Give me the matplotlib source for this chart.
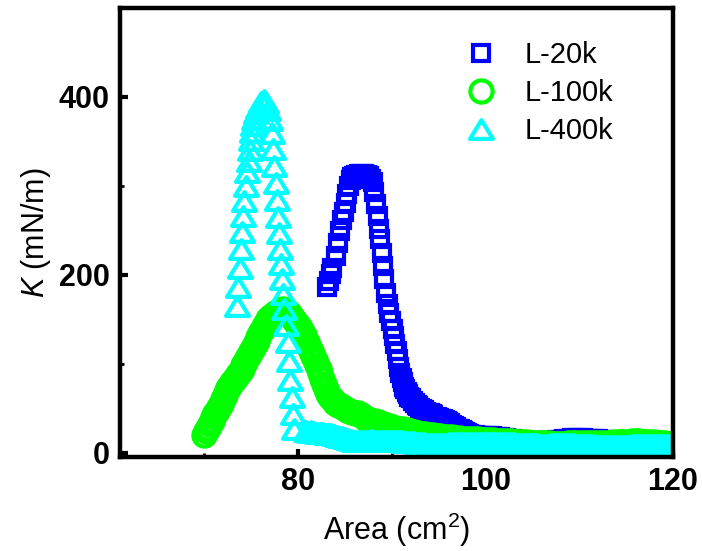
import matplotlib
matplotlib.use("Agg")
import matplotlib.pyplot as plt
from matplotlib.path import Path
from matplotlib.ticker import MultipleLocator

plt.rcParams['font.family'] = ['Liberation Sans', 'DejaVu Sans']
plt.rcParams['mathtext.fontset'] = 'custom'
plt.rcParams['mathtext.rm'] = 'Liberation Sans'
plt.rcParams['mathtext.it'] = 'Liberation Sans:italic'

# ---------------- data ----------------
series_labels = ['L-20k', 'L-100k', 'L-400k']

area_20k = [83.14, 83.32, 83.50, 83.68, 84.03, 84.28, 84.49, 84.75, 84.92, 85.10,
            85.28, 85.46, 85.64, 85.82, 85.99, 86.25, 86.52, 86.80, 87.06, 87.32,
            87.59, 87.80, 87.96, 88.13, 88.31, 88.49, 88.67, 88.80, 88.95, 89.06,
            89.20, 89.38, 89.56, 89.73, 89.91, 90.10, 90.27, 90.37, 90.56, 90.70,
            90.80, 90.91, 91.06, 91.16,
            91.30, 91.45, 91.60, 91.75, 91.90, 92.05, 92.25, 92.45, 92.65, 92.85,
            93.05, 93.25, 93.45, 93.65, 93.85, 94.05, 94.25, 94.45, 94.65, 94.85,
            95.05, 95.25, 95.45, 95.65, 95.85, 96.05, 96.25, 96.45, 96.65, 96.85,
            97.05, 97.25, 97.45, 97.65, 97.85, 98.05, 98.3, 98.6, 98.9, 99.2,
            99.5, 99.8, 100.1, 100.4, 100.7, 101.0, 101.3, 101.6, 101.9, 102.2,
            102.5, 102.8, 103.1, 103.4, 103.7,
            104.0, 104.4, 104.8, 105.2, 105.6, 106.0, 106.4, 106.8, 107.2, 107.6,
            108.0, 108.4, 108.8, 109.2, 109.6, 110.0, 110.4, 110.8, 111.2, 111.6,
            112.0, 112.4, 112.8, 113.2, 113.6, 114.0, 114.4, 114.8, 115.2, 115.6,
            116.0, 116.4, 116.8, 117.2, 117.6, 118.0, 118.4, 118.8, 119.2, 119.6,
            120.0, 120.4]
k_20k = [186, 193, 201, 208, 221, 236, 249, 261, 270, 281,
         291, 300, 307, 310, 311, 312, 313, 313, 313, 312,
         311, 308, 304, 293, 279, 266, 251, 240, 225, 210,
         195, 180, 167, 157, 148, 139, 131, 122, 114, 105,
         96, 90, 84, 79,
         74, 71, 68, 65.5, 63, 61, 58.5, 56, 54, 52,
         50.5, 49, 47.5, 46, 45, 44, 43, 42, 40.5, 39.5,
         38.5, 38, 37.5, 36.5, 35.5, 34.5, 33, 31.5, 30, 28.5,
         27, 26, 25, 24, 23, 22, 21, 20, 19.5, 19,
         19, 19, 19, 18.8, 18.5, 18, 17.5, 17, 16.5, 16,
         15.5, 15, 14.5, 14, 13.5,
         13.5, 13.5, 13.5, 13, 13, 12.5, 12.5, 13, 13.5, 14,
         14.5, 15, 15.5, 16, 16, 16, 16, 15.5, 15.5, 15,
         15, 14.5, 14, 13, 12, 11, 10.5, 10, 10, 10,
         10, 10, 10, 10, 10, 10, 10, 10, 10, 10,
         10, 10]

area_100k = [70.0, 70.2, 70.4, 70.6, 70.8, 71.0, 71.2, 71.4, 71.6, 71.8,
             72.0, 72.2, 72.4, 72.6, 72.8, 73.0, 73.2, 73.4, 73.6, 73.8,
             74.0, 74.2, 74.4, 74.6, 74.8, 75.0, 75.2, 75.4, 75.6, 75.8,
             76.0, 76.2, 76.4, 76.6, 76.8, 77.0, 77.2, 77.4, 77.6, 77.8,
             78.0, 78.2, 78.4, 78.6, 78.8, 79.0, 79.2, 79.4, 79.6, 79.8,
             80.0, 80.2, 80.4, 80.6, 80.8, 81.0, 81.2, 81.4, 81.6, 81.8,
             82.0, 82.2, 82.4, 82.6, 82.8, 83.0, 83.2, 83.4, 83.6, 83.8,
             84.0, 84.3, 84.6, 84.9, 85.2, 85.5, 85.8, 86.1, 86.4, 86.7,
             87.0, 87.3, 87.6, 87.9, 88.2, 88.5, 88.8, 89.1, 89.4, 89.7,
             90.0, 90.4, 90.8, 91.2, 91.6, 92.0, 92.4, 92.8, 93.2, 93.6,
             94.0, 94.4, 94.8, 95.2, 95.6, 96.0, 96.4, 96.8, 97.2, 97.6,
             98.0, 98.4, 98.8, 99.2, 99.6, 100.0, 100.4, 100.8, 101.2, 101.6,
             102.0, 102.4, 102.8, 103.2, 103.6, 104.0, 104.4, 104.8, 105.2, 105.6,
             106.0, 106.4, 106.8, 107.2, 107.6, 108.0, 108.4, 108.8, 109.2, 109.6,
             110.0, 110.4, 110.8, 111.2, 111.6, 112.0, 112.4, 112.8, 113.2, 113.6,
             114.0, 114.4, 114.8, 115.2, 115.6, 116.0, 116.4, 116.8, 117.2, 117.6,
             118.0, 118.4, 118.8, 119.2, 119.6, 120.0, 120.4]
k_100k = [20, 24, 28, 32, 36, 40, 44, 47, 51, 55,
          60, 65, 70, 73, 76, 79, 82, 85, 88, 91,
          94, 98, 102, 106, 110, 114, 118, 122, 126, 130,
          134, 138, 142, 146, 150, 152, 154, 155, 157, 158,
          159, 160, 161, 160, 159, 157, 155, 152, 149, 146,
          143, 140, 136, 132, 128, 124, 119, 114, 109, 104,
          99, 94, 89, 83, 77, 71, 66, 63, 60, 58,
          56, 54, 52, 50, 48, 47, 46, 45, 44, 42,
          40, 38, 37, 36, 35, 34, 33, 32, 31, 30,
          29, 28, 27, 26, 25, 24, 23, 22, 21, 20.5,
          20, 19.5, 19, 18.5, 18, 17.5, 17, 16.5, 16, 15.8,
          15.5, 15.2, 15, 14.8, 14.5, 14.2, 14, 13.8, 13.5, 13.2,
          13, 12.8, 12.5, 12.2, 12, 11.8, 11.5, 11.2, 11, 10.8,
          10.5, 10.3, 10.2, 10, 10, 10, 10, 10.2, 10.3, 10.5,
          10.5, 10.5, 10.5, 10.5, 10.5, 10.5, 10.8, 11, 11.3, 11.6,
          12, 12.2, 12.3, 12.4, 12.5, 12.5, 12.5, 12.4, 12.2, 12,
          11.6, 11.2, 10.8, 10.5, 10, 9.6, 9.3]

area_400k = [73.50, 73.58, 73.78, 73.93, 74.05, 74.16, 74.30, 74.44, 74.59, 74.75,
             74.87, 75.02, 75.12, 75.23, 75.37, 75.55, 75.80, 76.10, 76.40,
             76.65, 76.85, 77.05, 77.22, 77.36, 77.50, 77.63, 77.75, 77.86, 77.97,
             78.07, 78.18, 78.30, 78.43, 78.57, 78.73, 78.90, 79.06, 79.21, 79.34,
             79.48, 79.63,
             80.85, 81.15, 81.45, 81.75, 82.05, 82.35, 82.65, 82.95, 83.25, 83.55,
             83.85, 84.15, 84.45, 84.75, 85.05, 85.35, 85.65, 85.95, 86.25, 86.55,
             86.85, 87.15, 87.45, 87.75, 88.05, 88.35, 88.65, 88.95, 89.25, 89.55,
             89.85, 90.15, 90.45, 90.75, 91.05, 91.35, 91.65, 91.95, 92.25, 92.55,
             92.85, 93.15, 93.45, 93.75, 94.05, 94.35, 94.65, 94.95, 95.25, 95.55,
             95.85, 96.15, 96.45, 96.75, 97.05, 97.35, 97.65, 97.95, 98.25, 98.55,
             98.85, 99.15, 99.45, 99.75, 100.05, 100.35, 100.65, 100.95, 101.25, 101.55,
             101.85, 102.15, 102.45, 102.75, 103.05, 103.35, 103.65, 103.95, 104.25, 104.55,
             104.85, 105.15, 105.45, 105.75, 106.05, 106.35, 106.65, 106.95, 107.25, 107.55,
             107.85, 108.15, 108.45, 108.75, 109.05, 109.35, 109.65, 109.95, 110.25, 110.55,
             110.85, 111.15, 111.45, 111.75, 112.05, 112.35, 112.65, 112.95, 113.25, 113.55,
             113.85, 114.15, 114.45, 114.75, 115.05, 115.35, 115.65, 115.95, 116.25, 116.55,
             116.85, 117.15, 117.45, 117.75, 118.05, 118.35, 118.65, 118.95, 119.25, 119.55,
             119.85, 120.15]
k_400k = [165, 186, 208, 229, 248, 266, 283, 300, 315, 328,
          340, 351, 360, 368, 375, 382, 388, 394, 396,
          393, 385, 374, 359, 341, 322, 303, 284, 265, 247,
          229, 212, 195, 178, 161, 144, 124, 103, 82, 62,
          43, 26,
          24.5, 23.5, 24, 23, 22.5, 22.5, 21.5, 21, 21, 20.5,
          20, 19, 18, 17, 16, 15, 14, 13.5, 13, 12.5,
          12.5, 13, 13.5, 14, 13.5, 13, 13, 13, 12.5, 12.5,
          13, 13, 13, 12.5, 12.5, 12, 12, 11.5, 11.5, 11,
          11, 10.5, 10.5, 10, 10, 9.5, 9.5, 9.5, 10, 10,
          10, 10.5, 10.5, 10.5, 10.5, 11, 11, 11, 11, 11,
          11, 11, 11, 11, 11, 11, 11, 11, 11, 11,
          10.5, 10.5, 10.5, 10.5, 10.5, 10, 10, 10, 10, 10,
          9.5, 9.5, 9.5, 9, 9, 9, 9, 9.5, 9.5, 9.5,
          9.5, 9.5, 9.5, 9.5, 9.5, 9.5, 9, 9, 9, 8.5,
          8.5, 8, 8, 7.5, 7.5, 7, 7, 7, 7, 7,
          7, 7, 7, 7.5, 7.5, 7.5, 8, 8, 8, 8,
          8, 8, 8, 8.5, 8.5, 8.5, 9, 9, 9, 9,
          9.5, 9.5]

x_ticks = [80, 100, 120]
y_ticks = [0, 200, 400]

# ---------------- figure ----------------
fig = plt.figure(figsize=(7.02, 5.51), dpi=100)
ax = fig.add_axes([119.7 / 702, 1 - 457 / 551, (673 - 119.7) / 702, (457 - 8) / 551])

tri = Path([(0, 0.82), (-1, -0.82), (1, -0.82), (0, 0.82)], closed=True)

ax.plot(area_20k, k_20k, ls='none', marker='s', ms=11.5, mfc='none',
        mec='#0000ff', mew=3.0, label=series_labels[0])
ax.plot(area_100k, k_100k, ls='none', marker='o', ms=16, mfc='none',
        mec='#00ff00', mew=3.0, label=series_labels[1])
ax.plot(area_400k, k_400k, ls='none', marker=tri, ms=16.5, mfc='none',
        mec='#00ffff', mew=3.0, label=series_labels[2])

ax.set_xlim(61, 120)
ax.set_ylim(-5, 500)
ax.set_xticks(x_ticks)
ax.set_yticks(y_ticks)
ax.xaxis.set_minor_locator(MultipleLocator(10))
ax.yaxis.set_minor_locator(MultipleLocator(100))
ax.tick_params(which='both', direction='in', top=False, right=False)
ax.tick_params(which='major', length=6, width=3, pad=7)
ax.tick_params(which='minor', length=3, width=2)
for lab in ax.get_xticklabels() + ax.get_yticklabels():
    lab.set_fontsize(22)
    lab.set_fontweight('bold')
for sp in ax.spines.values():
    sp.set_linewidth(3.2)

ax.set_xlabel('Area (cm$^{2}$)', fontsize=22)
ax.set_ylabel('$K$ (mN/m)', fontsize=22)
ax.xaxis.set_label_coords(0.5, -0.12)
ax.yaxis.set_label_coords(-0.12, 0.5)

ax.legend(loc='upper left', bbox_to_anchor=(452 / 702, 1 - 41 / 551),
          bbox_transform=fig.transFigure, frameon=False, fontsize=21,
          borderpad=0, borderaxespad=0, handlelength=2, handletextpad=0.5,
          labelspacing=0.35, numpoints=1)

fig.savefig('out.png', dpi=100)
